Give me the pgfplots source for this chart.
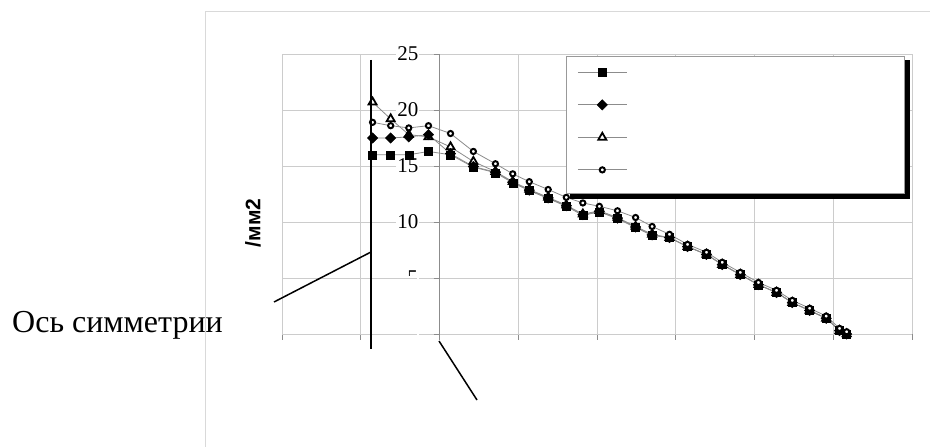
\documentclass[border=0pt]{standalone}
\usepackage{fontspec}
\setmainfont{Liberation Serif}
\newfontfamily\lsans{Liberation Sans}
\usepackage{pgfplots}
\pgfplotsset{compat=1.18}

\pgfplotstableread{
x sq di tr ci
-8.5 16.0 17.5 20.7 18.9
-6.2 16.0 17.5 19.2 18.6
-3.9 16.0 17.6 17.8 18.4
-1.4 16.3 17.8 17.6 18.6
1.4 16.0 16.1 16.7 17.9
4.3 14.9 14.95 15.4 16.3
7.1 14.4 14.45 14.5 15.2
9.3 13.5 13.55 13.6 14.3
11.4 12.8 12.85 12.9 13.6
13.8 12.1 12.15 12.2 12.9
16.1 11.4 11.45 11.5 12.2
18.2 10.6 10.65 10.7 11.7
20.3 10.9 10.95 11.0 11.4
22.6 10.3 10.35 10.4 11.0
24.9 9.5 9.55 9.6 10.4
27.0 8.8 8.85 8.9 9.6
29.2 8.6 8.6 8.6 8.9
31.5 7.8 7.8 7.8 8.0
33.9 7.1 7.1 7.1 7.3
35.9 6.2 6.2 6.2 6.4
38.2 5.3 5.3 5.3 5.5
40.5 4.4 4.4 4.4 4.6
42.8 3.7 3.7 3.7 3.9
44.8 2.8 2.8 2.8 3.0
47.0 2.1 2.1 2.1 2.3
49.1 1.4 1.4 1.4 1.6
50.8 0.3 0.3 0.3 0.5
51.7 0.0 0.0 0.0 0.2
}\datatable

\begin{document}
\begin{tikzpicture}
\path[use as bounding box] (0bp,0bp) rectangle (930bp,447bp);
\fill[white] (0bp,0bp) rectangle (930bp,447bp);
\draw[black!15, line width=1bp] (205bp,0bp) -- (205bp,435bp) -- (931bp,435bp);
\begin{axis}[
  scale only axis,
  width=630bp, height=280bp,
  at={(282bp,113bp)}, anchor=south west,
  xmin=-20, xmax=60, ymin=0, ymax=25,
  enlargelimits=false,
  axis x line=bottom,
  axis y line=middle,
  axis line style={draw=black!45, line width=0.8bp, -},
  xtick={-20,-10,...,60},
  xticklabels={},
  ytick={5,10,...,25},
  yticklabels={,10,15,20,25},
  extra y ticks={0},
  extra y tick labels={},
  tick align=outside,
  major tick length=6bp,
  tick style={draw=black!45, line width=0.8bp},
  grid=major,
  major grid style={draw=black!20, line width=0.7bp},
  /pgf/number format/assume math mode=true,
  yticklabel style={font=\fontsize{21bp}{24bp}\selectfont, anchor=east, fill=white, inner sep=1bp, xshift=-14bp},
  clip=false,
  legend style={name=leg, at={(rel axis cs:0.4508,0.9929)}, anchor=north west,
    draw=black!40, line width=0.8bp, fill=white,
    inner xsep=0pt, inner ysep=0pt,
    cells={anchor=base west},
    nodes={inner sep=0pt, text depth={}},
    row sep=0pt, column sep=0pt},
  legend image code/.code={
    \path (-11bp,0bp) (49bp,0bp);
    \draw[mark repeat=2,mark phase=2,#1] plot coordinates {(0bp,0bp) (24.5bp,0bp) (49bp,0bp)};
  },
  sqstyle/.style={draw=black!45, line width=0.8bp, mark=square*, mark size=4bp, mark options={fill=black, draw=black, line width=0.4bp, solid}},
  distyle/.style={draw=black!45, line width=0.8bp, mark=square*, mark size=3.7bp, mark options={rotate=45, fill=black, draw=black, line width=0.4bp, solid}},
  trstyle/.style={draw=black!45, line width=0.8bp, mark=triangle*, mark size=4.6bp, mark options={fill=white, draw=black, line width=1.8bp, solid}},
  cistyle/.style={draw=black!45, line width=0.8bp, mark=*, mark size=2.6bp, mark options={fill=white, draw=black, line width=2bp, solid}},
]
\addlegendimage{sqstyle}
\addlegendentry{\rule[-16.5bp]{0pt}{32.5bp}\hspace*{277bp}}
\addlegendimage{distyle}
\addlegendentry{\rule[-16.5bp]{0pt}{32.5bp}\hspace*{277bp}}
\addlegendimage{trstyle}
\addlegendentry{\rule[-16.5bp]{0pt}{32.5bp}\hspace*{277bp}}
\addlegendimage{cistyle}
\addlegendentry{\rule[-24bp]{0pt}{40bp}\hspace*{277bp}}
\addplot[trstyle, forget plot] table[x=x,y=tr] {\datatable};
\addplot[sqstyle, forget plot] table[x=x,y=sq] {\datatable};
\addplot[distyle, forget plot] table[x=x,y=di] {\datatable};
\addplot[cistyle, forget plot] table[x=x,y=ci] {\datatable};
\end{axis}
% legend shadow
\fill[black] ([yshift=-4bp]leg.north east) rectangle ([xshift=5.5bp,yshift=-4.5bp]leg.south east);
\fill[black] ([xshift=4bp]leg.south west) rectangle ([xshift=5.5bp,yshift=-4.5bp]leg.south east);
% partially hidden tick label 5
\begin{scope}
\clip (395bp,171.5bp) rectangle (425bp,181bp);
\node[anchor=east, inner sep=1bp, font=\fontsize{21bp}{24bp}\selectfont] at (419bp,169bp) {5};
\end{scope}
% symmetry axis and leader lines
\draw[black, line width=2.3bp] (371bp,387bp) -- (371bp,98bp);
\draw[black, line width=1.5bp] (274bp,145bp) -- (371bp,195bp);
\draw[black, line width=1.5bp] (439bp,106bp) -- (477bp,47bp);
\node[anchor=base west, inner sep=0pt, font=\fontsize{32bp}{36bp}\selectfont] at (12bp,114bp) {Ось симметрии};
\node[rotate=90, inner sep=0pt, font=\lsans\bfseries\fontsize{21bp}{24bp}\selectfont] at (253bp,224bp) {/мм2};
\end{tikzpicture}
\end{document}
